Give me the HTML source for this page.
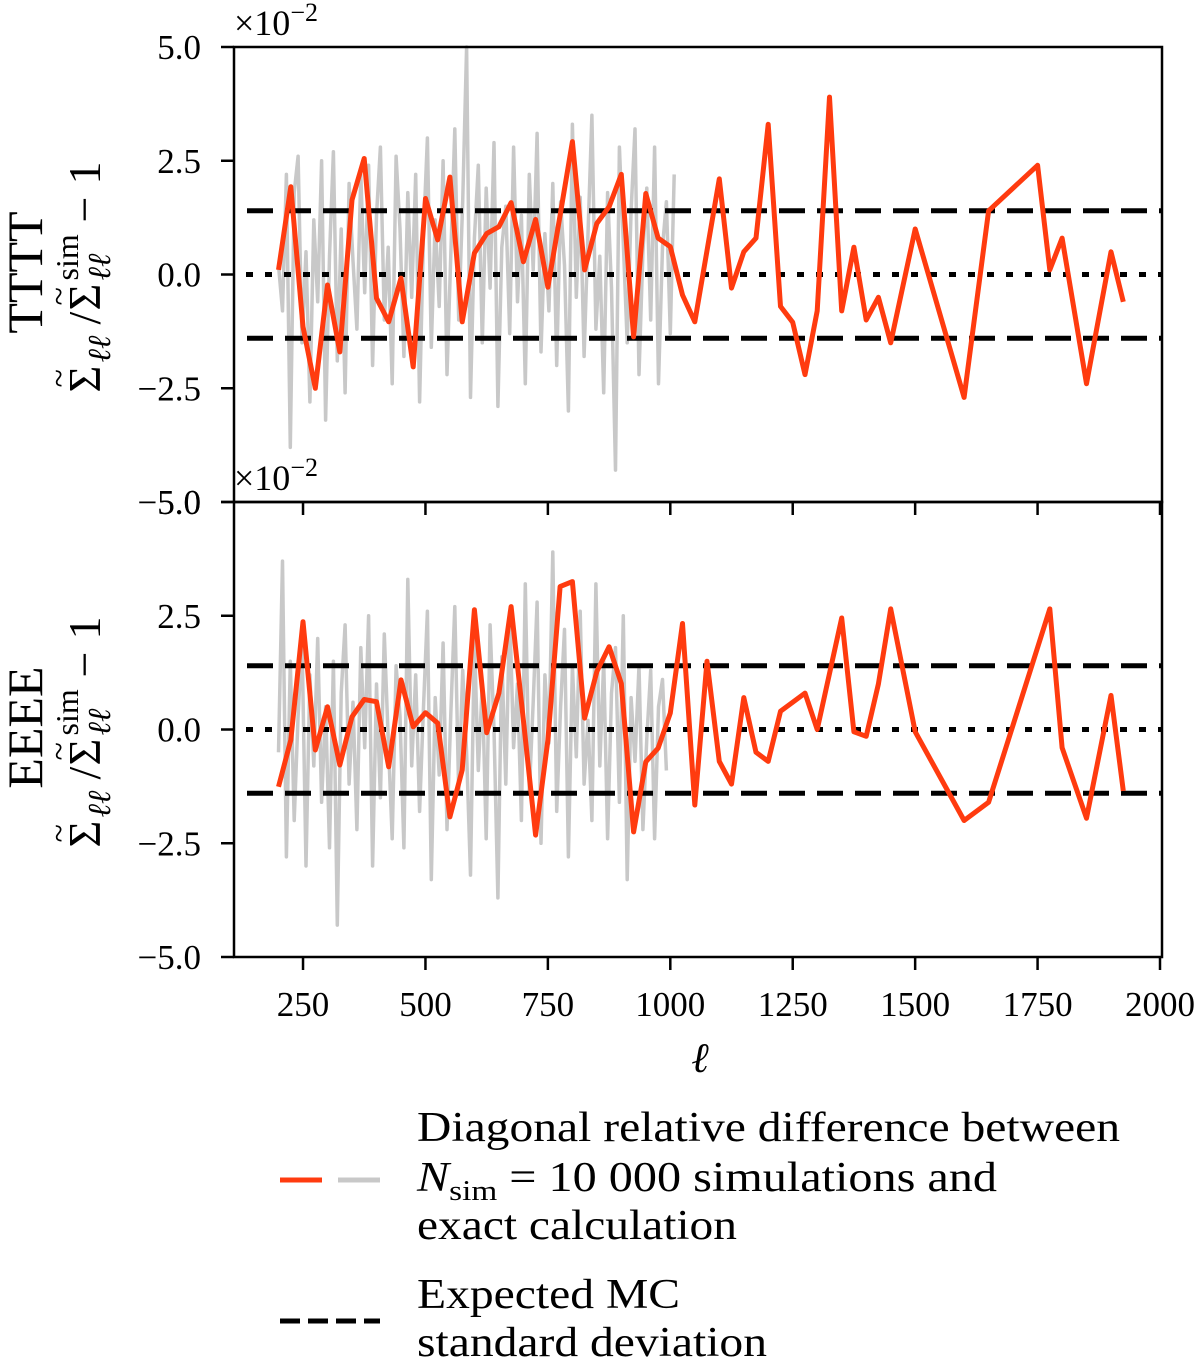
<!DOCTYPE html>
<html><head><meta charset="utf-8">
<style>
html,body{margin:0;padding:0;background:#fff;}
svg{display:block;font-family:"Liberation Serif","DejaVu Serif",serif;}
</style></head>
<body>
<svg id="chart" width="1200" height="1359" viewBox="0 0 1200 1359" xmlns="http://www.w3.org/2000/svg">
  <g id="legend">
    <line x1="280" y1="1180" x2="322" y2="1180" stroke="#ff3b0f" stroke-width="5"/>
    <line x1="338" y1="1180" x2="380" y2="1180" stroke="#c8c8c8" stroke-width="5"/>
    <text x="417" y="1141" font-size="42" textLength="703" lengthAdjust="spacingAndGlyphs">Diagonal relative difference between</text>
    <text x="417" y="1191" font-size="42" textLength="580" lengthAdjust="spacingAndGlyphs"><tspan font-style="italic">N</tspan><tspan font-size="29" dy="9">sim</tspan><tspan dy="-9"> = 10 000 simulations and</tspan></text>
    <text x="417" y="1239" font-size="42" textLength="320" lengthAdjust="spacingAndGlyphs">exact calculation</text>
    <line x1="280" y1="1321" x2="380" y2="1321" stroke="#000" stroke-width="5" stroke-dasharray="20,8"/>
    <text x="417" y="1308" font-size="42" textLength="263" lengthAdjust="spacingAndGlyphs">Expected MC</text>
    <text x="417" y="1356" font-size="42" textLength="350" lengthAdjust="spacingAndGlyphs">standard deviation</text>
  </g>
</svg>
<script>
const xTicks = [250, 500, 750, 1000, 1250, 1500, 1750, 2000];
const yTicks = [5.0, 2.5, 0.0, -2.5, -5.0];
const yTickLabels = ["5.0", "2.5", "0.0", "\u22122.5", "\u22125.0"];
const mcStd = 1.4;

const ttttEll = [200,225,250,275,300,325,350,375,400,425,450,475,500,525,550,575,600,625,650,675,700,725,750,775,800,825,850,875,900,925,950,975,1000,1025,1050,1100,1125,1150,1175,1200,1225,1250,1275,1300,1325,1350,1375,1400,1425,1450,1500,1600,1650,1750,1775,1800,1850,1900,1925];
const ttttRed = [0.1,1.93,-1.15,-2.5,-0.23,-1.7,1.64,2.55,-0.52,-1.04,-0.08,-2.03,1.67,0.76,2.14,-1.04,0.47,0.9,1.05,1.58,0.28,1.21,-0.28,1.3,2.92,0.1,1.12,1.49,2.2,-1.37,1.78,0.8,0.61,-0.45,-1.04,2.1,-0.3,0.5,0.8,3.3,-0.7,-1.05,-2.2,-0.8,3.9,-0.8,0.6,-1.0,-0.5,-1.5,1.0,-2.7,1.4,2.4,0.1,0.8,-2.4,0.5,-0.6];

const eeeeEll = [200,225,250,275,300,325,350,375,400,425,450,475,500,525,550,575,600,625,650,675,700,725,750,775,800,825,850,875,900,925,950,975,1000,1025,1050,1075,1100,1125,1150,1175,1200,1225,1250,1275,1300,1350,1375,1400,1425,1450,1500,1600,1650,1775,1800,1850,1900,1925];
const eeeeRed = [-1.26,-0.23,2.37,-0.45,0.5,-0.78,0.28,0.66,0.61,-0.82,1.09,0.06,0.37,0.14,-1.92,-0.89,2.63,-0.07,0.8,2.7,0.2,-2.32,-0.23,3.14,3.25,0.25,1.27,1.82,1.01,-2.25,-0.71,-0.41,0.36,2.33,-1.66,1.5,-0.7,-1.2,0.7,-0.5,-0.7,0.4,0.6,0.8,0.0,2.45,-0.05,-0.15,1.0,2.65,-0.05,-2.0,-1.6,2.65,-0.4,-1.95,0.75,-1.35];

const grayEllStart = 200, grayEllStep = 8;
const ttttGray = [0.2,-0.8,2.2,-3.8,1.8,2.6,-1.5,0.5,-2.8,1.2,-0.6,2.5,-3.2,0.4,2.7,-1.9,1.0,-2.6,2.0,0.3,-1.2,2.2,-0.4,2.4,-2.0,1.3,2.8,-1.0,0.6,-2.4,2.6,1.0,-1.8,1.8,-0.5,2.2,-2.8,0.9,3.0,-1.6,1.2,-0.7,2.5,-2.2,0.5,3.2,-1.0,1.6,5.0,-2.7,0.8,2.4,-1.5,1.9,-0.3,2.9,-2.9,0.6,1.5,-1.3,2.8,-0.6,1.3,-2.4,2.2,0.1,3.1,-1.7,0.9,-0.8,2.0,-2.0,1.6,0.2,-3.0,3.3,-0.5,1.7,-1.8,0.9,3.5,-1.2,0.4,-2.6,1.8,-0.3,-4.3,2.8,0.7,-1.5,1.4,3.2,-2.2,0.5,1.9,-1.0,2.8,-2.4,0.6,1.6,-1.3,2.2];
const eeeeGray = [-0.5,3.7,-2.8,1.5,-2.0,0.3,2.0,-3.0,1.2,-0.8,2.0,-1.6,0.5,-2.6,1.5,-4.3,0.8,2.3,-1.2,0.6,-2.2,1.8,-0.4,2.5,-3.0,1.0,-1.5,2.1,-0.2,-2.4,1.4,0.3,-2.6,3.3,-0.8,1.2,-1.8,0.5,2.6,-3.3,0.7,-1.0,1.9,-2.2,0.4,2.7,-1.4,1.3,-0.5,-3.2,2.0,-0.9,1.0,-2.4,2.3,0.0,-3.7,1.6,-1.2,2.6,-0.4,1.0,-2.0,3.2,-1.4,0.6,2.8,-2.5,1.2,-0.3,3.9,-1.8,0.5,2.2,-2.8,1.4,-0.6,2.6,-1.2,0.2,-2.0,3.2,-0.8,1.5,-2.4,0.8,1.8,-1.6,2.5,-3.3,0.7,-0.7,1.4,-2.2,-0.2,1.3,-2.4,0.5,1.1,-0.9];

const NS = "http://www.w3.org/2000/svg";
const svg = document.getElementById('chart');
const AX_L = 234, AX_R = 1162;
function xPos(l){ return 180.6 + l * 0.4897; }
const panels = [
  {top:47, bottom:502, name:'tttt', title:'TTTT', red:ttttRed, ell:ttttEll, gray:ttttGray},
  {top:502, bottom:957, name:'eeee', title:'EEEE', red:eeeeRed, ell:eeeeEll, gray:eeeeGray}
];
function mk(tag, attrs, parent){
  const e = document.createElementNS(NS, tag);
  for (const k in attrs) e.setAttribute(k, attrs[k]);
  (parent || svg).appendChild(e);
  return e;
}
panels.forEach(function(p){
  const yPos = v => (p.top + p.bottom)/2 - v * (p.bottom - p.top)/10;
  const g = mk('g', {});
  
  
  let d = '';
  p.gray.forEach((v,i)=>{ d += (i?'L':'M') + xPos(grayEllStart + i*grayEllStep).toFixed(1) + ',' + yPos(v).toFixed(1); });
  const gp = mk('path', {d:d, fill:'none', stroke:'#c8c8c8', 'stroke-width':3.5, 'stroke-linejoin':'round'}, g);
  
  
  [mcStd, -mcStd].forEach(function(s){
    const l = mk('line', {x1:AX_L, x2:AX_R, y1:yPos(s), y2:yPos(s), stroke:'#000', 'stroke-width':5, 'stroke-dasharray':'26,12', 'stroke-dashoffset':'-13'}, g);
    
    
  });
  const z = mk('line', {x1:AX_L, x2:AX_R, y1:yPos(0), y2:yPos(0), stroke:'#000', 'stroke-width':5, 'stroke-dasharray':'7,12', 'stroke-dashoffset':'-12'}, g);
  
  
  d = '';
  p.red.forEach((v,i)=>{ d += (i?'L':'M') + xPos(p.ell[i]).toFixed(1) + ',' + yPos(v).toFixed(1); });
  const rp = mk('path', {d:d, fill:'none', stroke:'#ff3b0f', 'stroke-width':5, 'stroke-linejoin':'round'}, g);
  
  
  const fr = mk('rect', {x:AX_L, y:p.top, width:AX_R-AX_L, height:p.bottom-p.top, fill:'none', stroke:'#000', 'stroke-width':2.5}, g);
  
  
  yTicks.forEach(function(t,i){
    const y = yPos(t);
    const tl = mk('line', {x1:AX_L-13, x2:AX_L, y1:y, y2:y, stroke:'#000', 'stroke-width':2.5}, g);
    
    
    const tx = mk('text', {x:AX_L-33, y:y+12, 'font-size':35, 'text-anchor':'end'}, g);
    tx.textContent = yTickLabels[i];
    
    
  });
  xTicks.forEach(function(t){
    const x = xPos(t);
    const tl = mk('line', {x1:x, x2:x, y1:p.bottom, y2:p.bottom+13, stroke:'#000', 'stroke-width':2.5}, g);
    
    
    if (p.name === 'eeee') {
      const tx = mk('text', {x:x, y:1016, 'font-size':35, 'text-anchor':'middle'}, g);
      tx.textContent = String(t);
      
      
    }
  });
  const off = mk('text', {x:234, y:p.top-12, 'font-size':36}, g);
  off.innerHTML = '\u00d710<tspan font-size="26" dy="-14">\u22122</tspan>';
  
  
  const cy = (p.top + p.bottom)/2;
  const yl = mk('text', {transform:'translate(42,' + (cy-2) + ') rotate(-90)', 'font-size':50, 'text-anchor':'middle'}, g);
  yl.textContent = p.title;
  
  
  const fg = mk('g', {transform:'translate(100,' + cy + ') rotate(-90)'}, g);
  
  
  const parts = [
    ['\u03a3', -118, 0, 46, 'normal'],
    ['~', -113, -30, 34, 'normal'],
    ['\u2113\u2113', -88, 10, 32, 'italic'],
    ['/', -50, 0, 46, 'normal'],
    ['\u03a3', -36, 0, 46, 'normal'],
    ['~', -31, -30, 34, 'normal'],
    ['\u2113\u2113', -6, 10, 32, 'italic'],
    ['sim', -6, -22, 32, 'normal'],
    ['\u2212', 52, 0, 46, 'normal'],
    ['1', 90, 0, 46, 'normal']
  ];
  parts.forEach(function(q){
    const t = mk('text', {x:q[1], y:q[2], 'font-size':q[3], 'font-style':q[4]}, fg);
    t.textContent = q[0];
  });
});
const xl = mk('text', {x:700, y:1072, 'font-size':42, 'font-style':'italic', 'text-anchor':'middle'});
xl.textContent = '\u2113';


</script>
</body></html>
